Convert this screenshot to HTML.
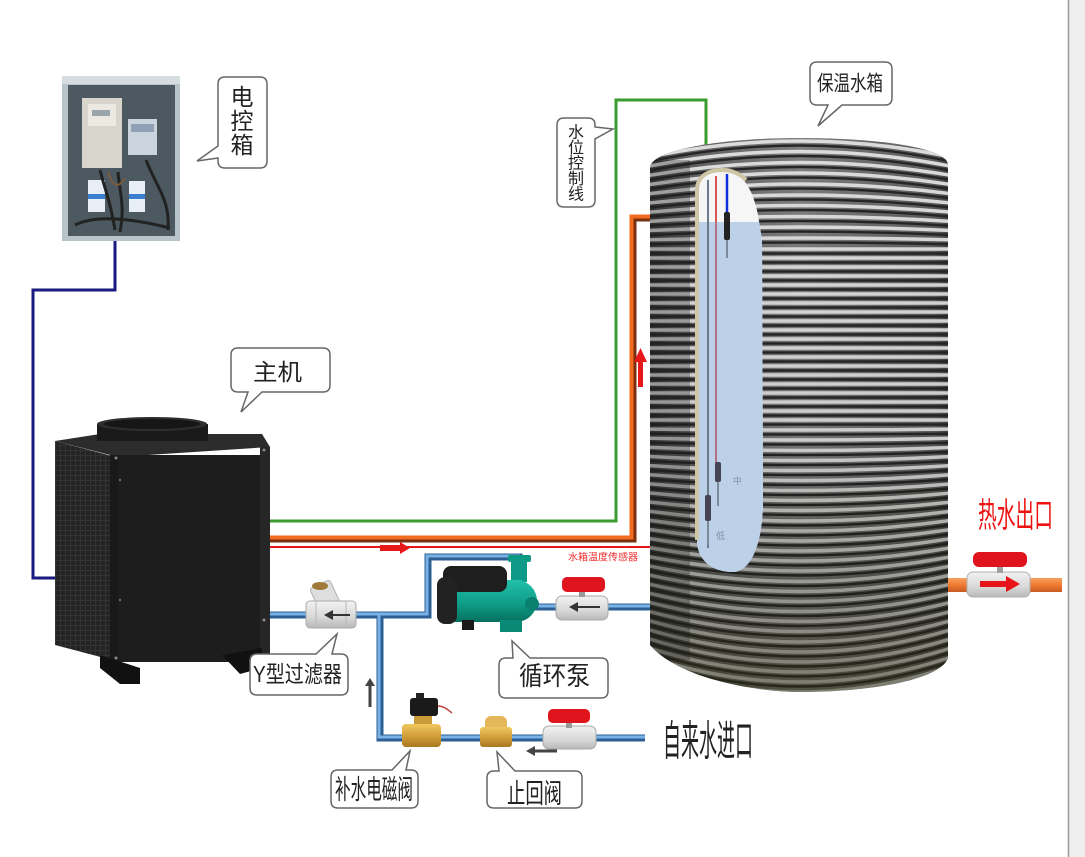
<!DOCTYPE html>
<html><head><meta charset="utf-8"><style>
html,body{margin:0;padding:0;background:#fff;}
svg{display:block;}
text{font-family:"Liberation Sans","Noto Sans CJK SC",sans-serif;}
</style></head><body>
<svg width="1085" height="857" viewBox="0 0 1085 857" xmlns="http://www.w3.org/2000/svg">
<defs>
<clipPath id="tank"><path d="M650,168 C650,150 720,138 800,138 C880,138 948,148 948,165 L948,658 C940,680 870,692 800,692 C760,692 680,680 650,645 Z"/></clipPath>
<clipPath id="win"><path d="M697,540 L697,190 C697,175 710,170 722,170 C740,170 752,185 758,215 L762,240 L763,500 C763,545 750,572 733,572 C712,572 697,560 697,540 Z"/></clipPath>
<linearGradient id="tg" x1="0" x2="1" y1="0" y2="0"><stop offset="0" stop-color="#2e2e2e"/><stop offset="0.1" stop-color="#5a5a5a"/><stop offset="0.5" stop-color="#7e7e7e"/><stop offset="0.92" stop-color="#5c5c5c"/><stop offset="1" stop-color="#303030"/></linearGradient>
<linearGradient id="tv" x1="0" x2="0" y1="0" y2="1"><stop offset="0" stop-color="#000" stop-opacity="0"/><stop offset="0.55" stop-color="#000" stop-opacity="0.08"/><stop offset="1" stop-color="#2a2a10" stop-opacity="0.55"/></linearGradient>
<linearGradient id="og" x1="0" x2="0" y1="0" y2="1"><stop offset="0" stop-color="#f7a060"/><stop offset="0.5" stop-color="#f07a30"/><stop offset="1" stop-color="#c85a20"/></linearGradient>
<linearGradient id="brass" x1="0" x2="0" y1="0" y2="1"><stop offset="0" stop-color="#f0c860"/><stop offset="0.5" stop-color="#d4a03a"/><stop offset="1" stop-color="#a87820"/></linearGradient>
<linearGradient id="teal" x1="0" x2="0" y1="0" y2="1"><stop offset="0" stop-color="#22c0a8"/><stop offset="0.6" stop-color="#0e9a86"/><stop offset="1" stop-color="#06705e"/></linearGradient>
<linearGradient id="vg" x1="0" x2="0" y1="0" y2="1"><stop offset="0" stop-color="#f2f2f2"/><stop offset="0.6" stop-color="#d8d8d8"/><stop offset="1" stop-color="#b8b8b8"/></linearGradient>
<pattern id="grille" width="5" height="5" patternUnits="userSpaceOnUse"><rect width="5" height="5" fill="#242424"/><path d="M0,0.5H5M0.5,0V5" stroke="#333" stroke-width="1"/></pattern>
<path id="stripes" fill="none" d="M640,150Q800,110 960,150M640,159Q800,123 960,159M640,168Q800,135 960,168M640,177Q800,148 960,177M640,186Q800,160 960,186M640,195Q800,173 960,195M640,204Q800,186 960,204M640,213Q800,198 960,213M640,222Q800,211 960,222M640,231Q800,223 960,231M640,240Q800,236 960,240M640,249H960M640,258H960M640,267H960M640,276H960M640,285H960M640,294H960M640,303H960M640,312H960M640,321H960M640,330H960M640,339H960M640,348H960M640,357H960M640,366H960M640,375H960M640,384H960M640,393H960M640,402H960M640,411H960M640,420H960M640,429Q800,431 960,429M640,438Q800,442 960,438M640,447Q800,454 960,447M640,456Q800,465 960,456M640,465Q800,476 960,465M640,474Q800,487 960,474M640,483Q800,498 960,483M640,492Q800,509 960,492M640,501Q800,520 960,501M640,510Q800,532 960,510M640,519Q800,543 960,519M640,528Q800,554 960,528M640,537Q800,565 960,537M640,546Q800,576 960,546M640,555Q800,587 960,555M640,564Q800,599 960,564M640,573Q800,610 960,573M640,582Q800,621 960,582M640,591Q800,632 960,591M640,600Q800,643 960,600M640,609Q800,654 960,609M640,618Q800,666 960,618M640,627Q800,677 960,627M640,636Q800,688 960,636M640,645Q800,699 960,645M640,654Q800,710 960,654M640,663Q800,721 960,663M640,672Q800,733 960,672M640,681Q800,744 960,681"/>
</defs>

<rect width="1085" height="857" fill="#fff"/>
<rect x="1068" y="0" width="17" height="857" fill="#efefef"/>
<line x1="1068.5" y1="0" x2="1068.5" y2="857" stroke="#9a9a9a" stroke-width="1.5"/>

<!-- Electric control box -->
<rect x="62" y="76" width="118" height="165" fill="#b7c4ca"/>
<rect x="62" y="76" width="118" height="8" fill="#d6dde0"/>
<rect x="68" y="85" width="107" height="151" fill="#4c5961"/>
<rect x="82" y="98" width="40" height="70" fill="#d8d5cd"/>
<rect x="88" y="104" width="28" height="22" fill="#ece9e2"/>
<rect x="92" y="110" width="18" height="6" fill="#9aa4ab"/>
<rect x="128" y="119" width="29" height="36" fill="#cbd4dc"/>
<rect x="131" y="124" width="23" height="8" fill="#8ea0b2"/>
<rect x="88" y="180" width="17" height="32" fill="#e8eef5"/>
<rect x="88" y="194" width="17" height="5" fill="#3a7ed0"/>
<rect x="129" y="181" width="16" height="31" fill="#e8eef5"/>
<rect x="129" y="194" width="16" height="5" fill="#3a7ed0"/>
<path d="M100,170 C105,190 110,200 115,230 M118,172 C120,195 125,205 120,232 M146,160 C158,190 170,200 168,230 M75,225 C95,215 130,218 170,228" stroke="#222" stroke-width="3" fill="none"/>
<path d="M108,172 C112,185 118,190 125,178" stroke="#7a5a3a" stroke-width="2" fill="none"/>

<!-- blue control wire -->
<path d="M115,241 V290 H33 V578 H95" stroke="#1a1a80" stroke-width="3" fill="none"/>

<!-- green, orange, red lines -->
<path d="M270,521 H616 V100 H706 V150" stroke="#3a9b2e" stroke-width="3" fill="none"/>
<path d="M270,539 H633 V218 H652" stroke="#7a3010" stroke-width="7" fill="none"/>
<path d="M270,537.5 H631.5 V216.5 H652" stroke="#f36b21" stroke-width="4" fill="none"/>
<path d="M270,547 H650" stroke="#e8141a" stroke-width="2" fill="none"/>
<path d="M380,545 H400 V542 L410,548 L400,554 V551 H380 Z" fill="#e81818"/>
<path d="M638,387 V362 H634 L640.5,348 L647,362 H643 V387 Z" fill="#e81818"/>
<text x="568" y="558" font-size="10" fill="#f03030" dominant-baseline="central" textLength="70" lengthAdjust="spacingAndGlyphs">水箱温度传感器</text>

<!-- Tank -->
<g clip-path="url(#tank)">
<rect x="640" y="130" width="320" height="570" fill="url(#tg)"/>
<use href="#stripes" stroke="#dcdcdc" stroke-width="3.5"/>
<use href="#stripes" stroke="#262626" stroke-width="2.4" transform="translate(0,4.5)"/>
<rect x="640" y="130" width="320" height="570" fill="url(#tv)"/>
<rect x="650" y="160" width="40" height="500" fill="#1a1a1a" opacity="0.3"/>
</g>
<!-- window -->
<path d="M697,540 L697,190 C697,175 710,170 722,170 C740,170 752,185 758,215 L762,240 L763,500 C763,545 750,572 733,572 C712,572 697,560 697,540 Z" fill="#f6f6f6"/>
<g clip-path="url(#win)">
<rect x="690" y="222" width="80" height="360" fill="#bcd0e8"/>
</g>
<path d="M697,540 L697,190 C697,175 710,170 722,170 C732,170 740,174 746,180" stroke="#cfc6a6" stroke-width="4" fill="none"/>
<line x1="708" y1="180" x2="708" y2="548" stroke="#6a7a8a" stroke-width="2"/>
<line x1="716" y1="176" x2="716" y2="222" stroke="#d02020" stroke-width="1.5"/>
<line x1="716" y1="222" x2="716" y2="470" stroke="#b05060" stroke-width="1.5"/>
<line x1="727" y1="174" x2="727" y2="214" stroke="#1030e0" stroke-width="2.5"/>
<rect x="724" y="212" width="6" height="28" rx="2" fill="#222"/>
<rect x="726" y="240" width="2" height="18" fill="#7a8a9a"/>
<rect x="715" y="462" width="6" height="20" rx="2" fill="#445"/>
<rect x="717" y="482" width="2" height="24" fill="#7a8a9a"/>
<rect x="705" y="495" width="6" height="26" rx="2" fill="#445"/>
<rect x="707" y="521" width="2" height="24" fill="#7a8a9a"/>
<text x="733" y="481" font-size="9" fill="#8090a0" dominant-baseline="central">中</text>
<text x="716" y="536" font-size="9" fill="#8090a0" dominant-baseline="central">低</text>

<!-- hot water outlet -->
<rect x="948" y="578" width="114" height="14" fill="url(#og)"/>
<rect x="967" y="572" width="63" height="25" rx="6" fill="url(#vg)" stroke="#b0b0b0"/>
<rect x="997" y="564" width="6" height="9" fill="#a0a0a0"/>
<rect x="973" y="552" width="54" height="15" rx="6" fill="#e0141c"/>
<path d="M980,581 H1006 V576 L1020,584 L1006,592 V587 H980 Z" fill="#e8141a"/>
<text x="978" y="516" font-size="34" fill="#ee1111" dominant-baseline="central" textLength="75" lengthAdjust="spacingAndGlyphs">热水出口</text>

<!-- blue pipes -->
<g fill="none" stroke-linejoin="miter">
<path d="M270,615 H428 V557 H519 V572 M380,615 V738 H645 M530,607 H650" stroke="#2d5f93" stroke-width="7"/>
<path d="M270,614 H427 V556 H518 V572 M379,615 V737 H645 M530,606 H650" stroke="#78b2e6" stroke-width="3"/>
</g>

<!-- main unit -->
<polygon points="55,441 100,434 262,434 270,447 118,457" fill="#2c2c2c"/>
<rect x="97" y="424" width="111" height="17" fill="#1a1a1a"/>
<ellipse cx="152" cy="424" rx="55" ry="7" fill="#2e2e2e"/>
<ellipse cx="152" cy="424" rx="48" ry="5" fill="#161616"/>
<polygon points="55,441 112,456 112,660 55,645" fill="url(#grille)"/>
<rect x="110" y="455" width="10" height="207" fill="#191919"/>
<rect x="118" y="455" width="152" height="207" fill="#1d1d1d"/>
<rect x="260" y="447" width="10" height="215" fill="#262626"/>
<polygon points="100,655 140,668 140,684 120,684 100,668" fill="#111"/>
<polygon points="222,655 262,648 262,668 240,674" fill="#111"/>
<g fill="#888"><circle cx="116" cy="458" r="1.5"/><circle cx="264" cy="450" r="1.5"/><circle cx="116" cy="658" r="1.5"/><circle cx="264" cy="620" r="1.5"/><circle cx="120" cy="480" r="1"/><circle cx="120" cy="600" r="1"/></g>

<!-- Y filter -->
<rect x="314" y="583" width="22" height="26" rx="3" fill="#dedede" stroke="#b0b0b0" transform="rotate(-25 325 596)"/>
<ellipse cx="320" cy="586" rx="8" ry="4" fill="#a07a3a"/>
<rect x="306" y="601" width="50" height="27" rx="4" fill="url(#vg)" stroke="#aaa"/>
<line x1="316" y1="601" x2="316" y2="628" stroke="#b8b8b8"/>
<line x1="346" y1="601" x2="346" y2="628" stroke="#b8b8b8"/>
<path d="M350,614 H333 V610 L324,615 L333,620 V616 H350 Z" fill="#333"/>

<!-- pump -->
<rect x="508" y="555" width="23" height="7" rx="2" fill="#0d9a85"/>
<rect x="511" y="560" width="16" height="22" fill="#0e9a86"/>
<rect x="450" y="580" width="72" height="42" fill="url(#teal)"/>
<circle cx="516" cy="601" r="21" fill="url(#teal)"/>
<circle cx="532" cy="604" r="7" fill="#0a8070"/>
<rect x="443" y="566" width="64" height="26" rx="8" fill="#1e1e1e"/>
<rect x="437" y="577" width="20" height="47" rx="8" fill="#222"/>
<rect x="500" y="620" width="22" height="12" fill="#0a8a76"/>
<rect x="462" y="620" width="12" height="10" fill="#1a1a1a"/>

<!-- right ball valve -->
<rect x="556" y="596" width="52" height="24" rx="6" fill="url(#vg)" stroke="#aaa"/>
<rect x="579" y="589" width="6" height="8" fill="#999"/>
<rect x="562" y="577" width="43" height="15" rx="5" fill="#e0141c"/>
<path d="M600,606 H578 V602 L569,607 L578,612 V608 H600 Z" fill="#333"/>

<!-- solenoid valve -->
<rect x="414" y="714" width="18" height="12" fill="#c89a38"/>
<rect x="410" y="698" width="28" height="18" rx="3" fill="#1a1a1a"/>
<rect x="416" y="693" width="8" height="6" fill="#222"/>
<path d="M438,706 C444,706 448,710 452,713" stroke="#c04040" stroke-width="1.5" fill="none"/>
<rect x="402" y="724" width="39" height="23" rx="4" fill="url(#brass)"/>

<!-- check valve -->
<rect x="485" y="716" width="22" height="16" rx="6" fill="#e4b858"/>
<rect x="480" y="727" width="32" height="20" rx="3" fill="url(#brass)"/>

<!-- bottom ball valve -->
<rect x="543" y="726" width="53" height="23" rx="6" fill="url(#vg)" stroke="#aaa"/>
<rect x="566" y="720" width="6" height="8" fill="#999"/>
<rect x="548" y="709" width="42" height="14" rx="5" fill="#e0141c"/>

<!-- dark arrows -->
<path d="M368.5,707 V686 H365 L370,678 L375,686 H371.5 V707 Z" fill="#444"/>
<path d="M557,749.5 H535 V746 L526,751 L535,756 V752.5 H557 Z" fill="#444"/>

<!-- callouts -->
<g fill="#fff" stroke="#666" stroke-width="1.5">
<path d="M225,77 H260 Q267,77 267,84 V161 Q267,168 260,168 H225 Q218,168 218,161 V158 L197,161 L218,146 V84 Q218,77 225,77 Z"/>
<path d="M238,348 H323 Q330,348 330,355 V385 Q330,392 323,392 H262 L241,412 L248,392 H238 Q231,392 231,385 V355 Q231,348 238,348 Z"/>
<path d="M817,62 H885 Q892,62 892,69 V98 Q892,105 885,105 H842 L818,126 L828,105 H817 Q810,105 810,98 V69 Q810,62 817,62 Z"/>
<path d="M564,118 H588 Q595,118 595,125 V127 L613,129 L595,139 V200 Q595,207 588,207 H564 Q557,207 557,200 V125 Q557,118 564,118 Z"/>
<path d="M257,654 H316 L337,634 L332,654 H341 Q348,654 348,661 V688 Q348,695 341,695 H257 Q250,695 250,688 V661 Q250,654 257,654 Z"/>
<path d="M506,658 H513 L512,641 L530,658 H601 Q608,658 608,665 V691 Q608,698 601,698 H506 Q499,698 499,691 V665 Q499,658 506,658 Z"/>
<path d="M338,770 H392 L410,751 L406,770 H411 Q418,770 418,777 V801 Q418,808 411,808 H338 Q331,808 331,801 V777 Q331,770 338,770 Z"/>
<path d="M494,771 H499 L497,752 L515,771 H575 Q582,771 582,778 V801 Q582,808 575,808 H494 Q487,808 487,801 V778 Q487,771 494,771 Z"/>
</g>

<g fill="#222" dominant-baseline="central">
<text x="242" y="97" font-size="23" text-anchor="middle">电</text>
<text x="242" y="121" font-size="23" text-anchor="middle">控</text>
<text x="242" y="145" font-size="23" text-anchor="middle">箱</text>
<text x="253" y="372" font-size="23" textLength="49" lengthAdjust="spacingAndGlyphs">主机</text>
<text x="817" y="84" font-size="21" textLength="66" lengthAdjust="spacingAndGlyphs">保温水箱</text>
<text x="576" y="133" font-size="16" text-anchor="middle">水</text>
<text x="576" y="148.5" font-size="16" text-anchor="middle">位</text>
<text x="576" y="164" font-size="16" text-anchor="middle">控</text>
<text x="576" y="179.5" font-size="16" text-anchor="middle">制</text>
<text x="576" y="195" font-size="16" text-anchor="middle">线</text>
<text x="253" y="674" font-size="23" textLength="89" lengthAdjust="spacingAndGlyphs">Y型过滤器</text>
<text x="519" y="676" font-size="26" textLength="71" lengthAdjust="spacingAndGlyphs">循环泵</text>
<text x="335" y="790" font-size="27" textLength="78" lengthAdjust="spacingAndGlyphs">补水电磁阀</text>
<text x="507" y="794" font-size="27" textLength="55" lengthAdjust="spacingAndGlyphs">止回阀</text>
<text x="663" y="741" font-size="42" textLength="90" lengthAdjust="spacingAndGlyphs">自来水进口</text>
</g>
</svg>
</body></html>
